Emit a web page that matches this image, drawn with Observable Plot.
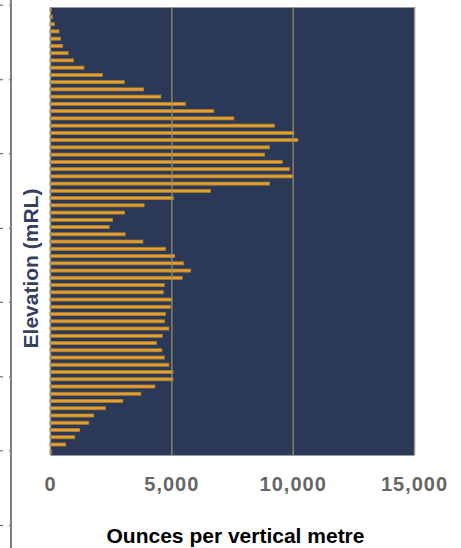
<!DOCTYPE html>
<html><head><meta charset="utf-8">
<script src="https://cdn.jsdelivr.net/npm/d3@7"></script>
<script src="https://cdn.jsdelivr.net/npm/@observablehq/plot@0.6"></script>
<style>html,body{margin:0;padding:0;background:#fff}</style>
</head><body><div id="chart"></div>
<script>
const elevations = [1000, 990, 980, 970, 960, 950, 940, 930, 920, 910,
  900, 890, 880, 870, 860, 850, 840, 830, 820, 810,
  800, 790, 780, 770, 760, 750, 740, 730, 720, 710,
  700, 690, 680, 670, 660, 650, 640, 630, 620, 610,
  600, 590, 580, 570, 560, 550, 540, 530, 520, 510,
  500, 490, 480, 470, 460, 450, 440, 430, 420, 410,
  400, 390];
const ounces = [55, 96, 180, 370, 430, 520, 745, 965, 1400, 2160,
  3060, 3855, 4570, 5580, 6750, 7575, 9250, 10050, 10215, 9045,
  8840, 9570, 9870, 9995, 9045, 6610, 5080, 3880, 3070, 2575,
  2440, 3100, 3830, 4765, 5135, 5510, 5800, 5450, 4710, 4670,
  5025, 4960, 4765, 4720, 4900, 4630, 4390, 4610, 4710, 4900,
  5070, 5070, 4325, 3745, 3000, 2285, 1805, 1600, 1225, 1020,
  650, 70];
const xTicks = [0, 5000, 10000, 15000];
const yTicks = [1007, 904, 802, 699, 597, 494, 392, 289];
const xLabel = "Ounces per vertical metre";
const yLabel = "Elevation (mRL)";

const data = elevations.map((e, i) => ({elevation: e, ounces: ounces[i]}));
const halfBar = 2.1;

const chart = Plot.plot({
  width: 461, height: 548,
  marginLeft: 50, marginRight: 47, marginTop: 7, marginBottom: 93,
  style: {fontFamily: "'Liberation Sans', Arial, sans-serif", background: "#fff", overflow: "visible"},
  x: {domain: [0, 15000], axis: null},
  y: {domain: [385.5, 1003.7], axis: null},
  marks: [
    Plot.frame({fill: "#2c3858", stroke: "none"}),
    Plot.rectX(data, {x1: 0, x2: "ounces", y1: d => d.elevation - halfBar, y2: d => d.elevation + halfBar,
      fill: "#e6a02e", stroke: "#a9802f", strokeWidth: 0.8}),
    Plot.ruleX(xTicks, {stroke: "#948f68", strokeOpacity: 0.85, strokeWidth: 1.5}),
    Plot.axisX(xTicks, {tickSize: 0, tickPadding: 21, tickFormat: d3.format(","), fontSize: 20,
      fontWeight: "bold", fill: "#666", label: null}),
    Plot.axisY(yTicks, {anchor: "left", tickSize: 11, dx: -39, tickFormat: () => "", stroke: "#555",
      strokeDasharray: "2,6,3", label: null}),
    Plot.text([xLabel], {frameAnchor: "bottom", lineAnchor: "middle", textAnchor: "middle", dy: 81, dx: 3,
      fontSize: 21, fontWeight: "bold", fill: "#000"}),
    Plot.text([yLabel], {frameAnchor: "left", rotate: -90, textAnchor: "middle", lineAnchor: "middle",
      dx: -19, dy: 37, fontSize: 21, fontWeight: "bold", fill: "#34405f"})
  ]
});
const svg = d3.select(chart);
svg.selectAll("g[aria-label='x-axis tick label'] text").attr("letter-spacing", "1");
svg.append("line").attr("x1", 11).attr("x2", 11).attr("y1", 0).attr("y2", 548)
  .attr("stroke", "#808080").attr("stroke-width", 2);
document.getElementById("chart").appendChild(chart);
</script>
</body></html>
